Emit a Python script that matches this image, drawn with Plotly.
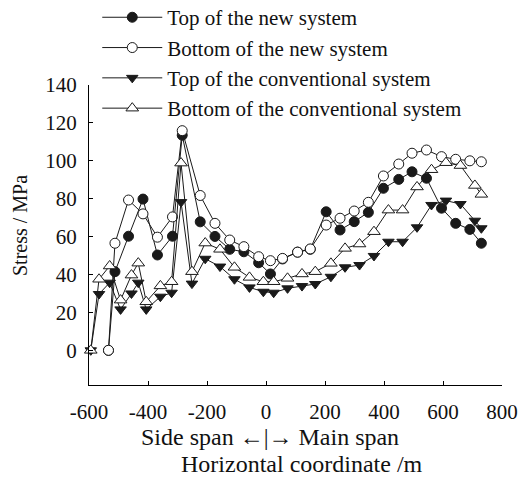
import plotly.graph_objects as go

# ---- data ----
x_new = [-534, -512, -466, -417, -368, -317, -284, -223, -173, -123, -75, -25, 15, 56,
         107, 150, 204, 251, 299, 347, 398, 450, 495, 544, 595, 643, 691, 730]
top_new = [0, 41.5, 60.2, 79.8, 50.3, 60.2, 113.5, 67.8, 60.1, 53.3, 52, 46.2, 40.3, 48.2,
           51.8, 53.3, 73.1, 63.5, 67.9, 72.8, 85.5, 90.2, 94.2, 90.8, 75, 67, 63.8, 56.5]
bottom_new = [0, 56.5, 79.3, 72, 59.7, 70.4, 115.9, 81.7, 67, 58.2, 54.7, 49.4, 47.3, 48.5,
              51.8, 53.5, 66.1, 69.7, 73.5, 78.1, 92, 98.3, 104, 105.7, 102.2, 100.8, 100, 99.5]

x_conv = [-594, -566, -530, -493, -456, -433, -406, -358, -320, -288, -251, -206, -156, -107,
          -56, -9, 26, 73, 122, 167, 220, 268, 317, 366, 415, 463, 512, 561, 610, 659, 708, 730]
top_conv = [0, 29.7, 35.7, 21.6, 30, 35.7, 21.6, 28.3, 30.4, 78.2, 35.2, 48.3, 44.2, 37.5,
            33.2, 30.9, 30.4, 32.7, 33.9, 35, 38.8, 43.8, 45, 49.8, 57.3, 57.3, 64.9, 76.7,
            79, 77.2, 68.4, 64.4]
bottom_conv = [0, 37.5, 44.5, 26.5, 39.7, 46, 25.6, 34, 36.2, 98.8, 41.5, 56.6, 53.3, 43.8,
               38.5, 36.2, 36.2, 38, 40.3, 41.5, 45.9, 53.8, 56.1, 62.6, 74, 74, 86.2, 95.3,
               99, 97.5, 87, 82.3]

names = ["Top of the new system", "Bottom of the new system",
         "Top of the conventional system", "Bottom of the conventional system"]
x_ticks = [-600, -400, -200, 0, 200, 400, 600, 800]
y_ticks = [0, 20, 40, 60, 80, 100, 120, 140]

FONT = "Liberation Serif"
LC = "#1a1a1a"

fig = go.Figure()
series = [
    (x_new, top_new, names[0], dict(symbol="circle", size=10, color=LC, line=dict(color=LC, width=1))),
    (x_new, bottom_new, names[1], dict(symbol="circle", size=10, color="white", line=dict(color=LC, width=1))),
    (x_conv, top_conv, names[2], dict(symbol="triangle-down", size=10, color=LC, line=dict(color=LC, width=1))),
    (x_conv, bottom_conv, names[3], dict(symbol="triangle-up", size=11, color="white", line=dict(color=LC, width=1))),
]
for xs, ys, nm, mk in series:
    fig.add_trace(go.Scatter(x=xs, y=ys, name=nm, mode="lines+markers",
                             line=dict(color=LC, width=1), marker=mk, cliponaxis=False))

# page body adds an 8px offset, so the figure is 8px smaller than the window
fig.update_layout(
    width=524, height=472,
    margin=dict(l=81, r=30, t=77, b=95, autoexpand=False),
    paper_bgcolor="white", plot_bgcolor="white",
    font=dict(family=FONT, size=21, color="#111"),
    showlegend=True,
    legend=dict(x=0.02, y=1.293, xanchor="left", yanchor="top",
                bgcolor="rgba(0,0,0,0)", font=dict(size=21, family=FONT),
                tracegroupgap=0, itemwidth=60),
    xaxis=dict(range=[-600, 800], tickvals=x_ticks, ticktext=[str(v) for v in x_ticks],
               showline=True, linecolor="black", linewidth=1, ticks="inside", ticklen=4,
               tickcolor="black", showgrid=False, zeroline=False, ticklabelstandoff=8),
    yaxis=dict(range=[-18.3, 140], tickvals=y_ticks, ticktext=[str(v) for v in y_ticks],
               showline=True, linecolor="black", linewidth=1, ticks="inside", ticklen=4,
               tickcolor="black", showgrid=False, zeroline=False, ticklabelstandoff=7),
)

fig.add_annotation(text="Stress / MPa", xref="paper", yref="paper",
                   x=-69/413, y=(385-226)/300, textangle=-90, showarrow=False,
                   xanchor="center", yanchor="middle", font=dict(size=20, family=FONT))
fig.add_annotation(text="Side span ←|→ Main span", xref="paper", yref="paper",
                   x=(270-89)/413, y=(385-437)/300, showarrow=False,
                   xanchor="center", yanchor="middle", font=dict(size=24, family=FONT))
fig.add_annotation(text="Horizontal coordinate /m", xref="paper", yref="paper",
                   x=(302-89)/413, y=(385-464)/300, showarrow=False,
                   xanchor="center", yanchor="middle", font=dict(size=24, family=FONT))

fig.write_html("out.html")
